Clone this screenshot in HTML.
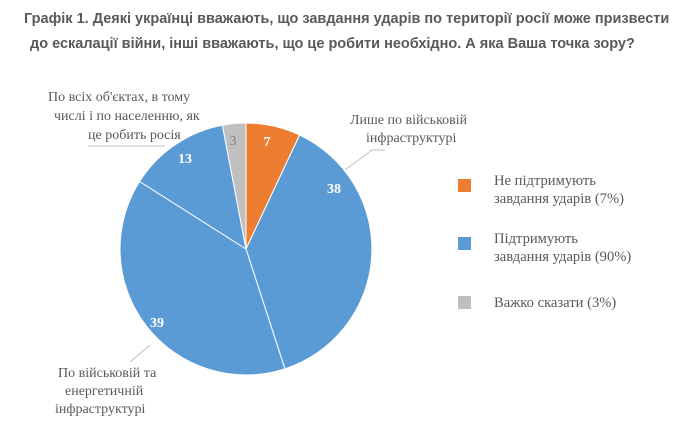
<!DOCTYPE html>
<html><head><meta charset="utf-8"><style>
body{margin:0;background:#fff;width:690px;height:445px;overflow:hidden}
svg{display:block}
.t{font-family:"Liberation Sans",sans-serif;font-weight:bold;font-size:14.5px;fill:#595959}
.l{font-family:"Liberation Serif",serif;font-size:14px;fill:#595959}
.g{font-family:"Liberation Serif",serif;font-size:14.6px;fill:#595959}
.v{font-family:"Liberation Serif",serif;font-size:14px;font-weight:bold;fill:#fff}
</style></head><body>
<svg width="690" height="445" viewBox="0 0 690 445">
<text class="t" x="24" y="23">Графік 1. Деякі українці вважають, що завдання ударів по території росії може призвести</text>
<text class="t" x="30" y="48">до ескалації війни, інші вважають, що це робити необхідно. А яка Ваша точка зору?</text>
<g stroke="#fff" stroke-width="1">
<path d="M246,249 L246,123 A126,126 0 0 1 299.6,135 Z" fill="#ED7D31"/>
<path d="M246,249 L299.6,135 A126,126 0 0 1 284.9,368.8 Z" fill="#5B9BD5"/>
<path d="M246,249 L284.9,368.8 A126,126 0 0 1 139.6,181.5 Z" fill="#5B9BD5"/>
<path d="M246,249 L139.6,181.5 A126,126 0 0 1 222.4,125.2 Z" fill="#5B9BD5"/>
<path d="M246,249 L222.4,125.2 A126,126 0 0 1 246,123 Z" fill="#BFBFBF"/>
</g>
<text class="v" x="267" y="146" text-anchor="middle">7</text>
<text class="v" x="334" y="193" text-anchor="middle">38</text>
<text class="v" x="157" y="327" text-anchor="middle">39</text>
<text class="v" x="185" y="163" text-anchor="middle">13</text>
<text x="233" y="145" text-anchor="middle" style="font-family:'Liberation Serif',serif;font-size:14px;fill:#7f7f7f">3</text>
<g stroke="#bfbfbf" fill="none">
<path d="M345,170 L372,150 L385,150"/>
<path d="M165,146 L88,146"/>
<path d="M150,345 L130,362"/>
</g>
<text class="l" x="48" y="101">По всіх об'єктах, в тому</text>
<text class="l" x="54" y="120">числі і по населенню, як</text>
<text class="l" x="88" y="139">це робить росія</text>
<text class="l" x="350" y="124">Лише по військовій</text>
<text class="l" x="366" y="142">інфраструктурі</text>
<text class="l" x="58" y="377">По військовій та</text>
<text class="l" x="65" y="395">енергетичній</text>
<text class="l" x="55" y="413">інфраструктурі</text>
<rect x="458" y="179" width="13" height="13" fill="#ED7D31"/>
<rect x="458" y="237" width="13" height="13" fill="#5B9BD5"/>
<rect x="458" y="296" width="13" height="13" fill="#BFBFBF"/>
<text class="g" x="494" y="185">Не підтримують</text>
<text class="g" x="494" y="203">завдання ударів (7%)</text>
<text class="g" x="494" y="243">Підтримують</text>
<text class="g" x="494" y="261">завдання ударів (90%)</text>
<text class="g" x="494" y="307">Важко сказати (3%)</text>
</svg>
</body></html>
